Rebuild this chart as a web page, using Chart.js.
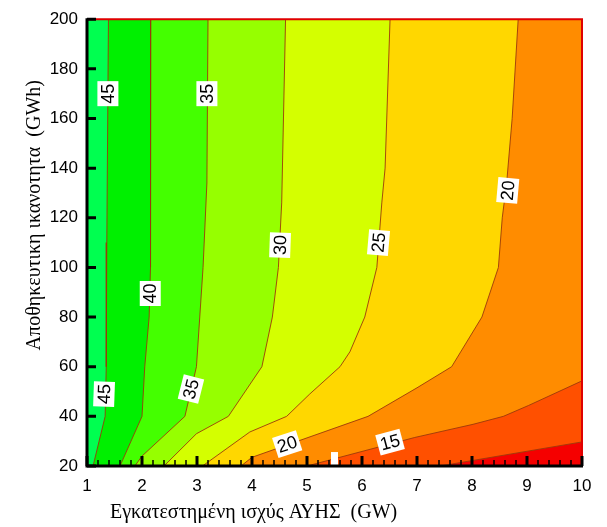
<!DOCTYPE html>
<html>
<head>
<meta charset="utf-8">
<script src="https://cdn.jsdelivr.net/npm/chart.js@4.4.1/dist/chart.umd.min.js"></script>
<style>
  html, body { margin: 0; padding: 0; background: #fff; }
</style>
</head>
<body>
<canvas id="contourChart" width="607" height="527"></canvas>
<script>
// tick labels
const xTicks = [1, 2, 3, 4, 5, 6, 7, 8, 9, 10];
const yTicks = [20, 40, 60, 80, 100, 120, 140, 160, 180, 200];

// contour levels (region >= level lies to the left / above the line)
const levels = [10, 15, 20, 25, 30, 35, 40, 45];

// contour lines: [GW, GWh]
const c10 = [[10, 29.7], [7.42, 20]];
const c15 = [[10, 54.3], [9.03, 44.4], [8.57, 40], [8.02, 36.8], [6.96, 31.5], [5.0, 20]];
const c20 = [[8.84, 200], [8.73, 160], [8.63, 134], [8.55, 120], [8.48, 100], [8.18, 80], [7.63, 60], [7.0, 51.5], [6.11, 40], [4.0, 23.5], [3.8, 20]];
const c25 = [[6.51, 200], [6.42, 140], [6.36, 126], [6.27, 100], [6.05, 80], [5.78, 66], [5.6, 60], [5.05, 49], [4.63, 40], [3.96, 33.7], [3.1, 20]];
const c30 = [[4.61, 200], [4.54, 126], [4.48, 100], [4.37, 80], [4.18, 60], [3.57, 40], [2.99, 33], [2.4, 20]];
const c35 = [[3.2, 200], [3.18, 134], [3.11, 100], [3.05, 80], [2.99, 60], [2.78, 40], [2.0, 24], [1.87, 20]];
const c40 = [[2.16, 200], [2.16, 134], [2.15, 100], [2.13, 80], [2.05, 60], [2.0, 40], [1.6, 20]];
const c45 = [[1.39, 200], [1.36, 110], [1.35, 60], [1.33, 40], [1.11, 20]];

const contours = [c10, c15, c20, c25, c30, c35, c40, c45];

// band colours: below 10, then >=10, >=15 ... >=45
const baseColor = '#f50000';
const bandColors = ['#ff5000', '#ff8c00', '#ffd700', '#d4ff00', '#96ff00', '#44ff00', '#00f000', '#00ff50'];
const lineColor = '#9c3a0a';

// inline contour labels
const contourLabels = [
  { text: '45', x: 1.38, y: 170, angle: -90 },
  { text: '35', x: 3.18, y: 170, angle: -90 },
  { text: '30', x: 4.51, y: 109, angle: -88 },
  { text: '25', x: 6.30, y: 110, angle: -85 },
  { text: '20', x: 8.65, y: 131, angle: -85 },
  { text: '40', x: 2.15, y: 89.5, angle: -90 },
  { text: '45', x: 1.31, y: 49, angle: -88 },
  { text: '35', x: 2.89, y: 51, angle: -76 },
  { text: '20', x: 4.64, y: 28.8, angle: -18 },
  { text: '15', x: 6.51, y: 29.6, angle: -15 },
  { text: '', x: 5.5, y: 22.4, angle: 0 }
];

const xMin = xTicks[0], xMax = xTicks[xTicks.length - 1];
const yMin = yTicks[0], yMax = yTicks[yTicks.length - 1];

const toPts = arr => arr.map(p => ({ x: p[0], y: p[1] }));

// polygon for "value >= level": contour, then round the left/top corners
function regionOf(arr) {
  const pts = toPts(arr);
  pts.push({ x: xMin, y: yMin }, { x: xMin, y: yMax });
  if (arr[0][1] !== yMax) pts.push({ x: xMax, y: yMax });
  return pts;
}

const datasets = [];
datasets.push({
  data: [{ x: xMin, y: yMin }, { x: xMax, y: yMin }, { x: xMax, y: yMax }, { x: xMin, y: yMax }],
  showLine: true, fill: 'shape', backgroundColor: baseColor,
  borderWidth: 0, pointRadius: 0, order: 100
});
contours.forEach((c, i) => {
  datasets.push({
    label: 'band ' + levels[i],
    data: regionOf(c),
    showLine: true, fill: 'shape', backgroundColor: bandColors[i],
    borderWidth: 0, pointRadius: 0, order: 90 - i
  });
});
contours.forEach((c, i) => {
  datasets.push({
    label: 'contour ' + levels[i],
    data: toPts(c),
    showLine: true, fill: false, borderColor: lineColor,
    borderWidth: 0.9, pointRadius: 0, order: 10
  });
});

const labelPlugin = {
  id: 'contourLabels',
  afterDatasetsDraw(chart) {
    const { ctx, scales: { x, y } } = chart;
    ctx.save();
    ctx.font = '18px "Liberation Sans", Arial, sans-serif';
    ctx.textAlign = 'center';
    ctx.textBaseline = 'middle';
    contourLabels.forEach(l => {
      const px = x.getPixelForValue(l.x);
      const py = y.getPixelForValue(l.y);
      ctx.save();
      ctx.translate(px, py);
      ctx.rotate(l.angle * Math.PI / 180);
      const w = l.text ? ctx.measureText(l.text).width + 5 : 7;
      const h = l.text ? 21 : 16;
      ctx.fillStyle = '#fff';
      ctx.fillRect(-w / 2, -h / 2, w, h);
      ctx.fillStyle = '#000';
      if (l.text) ctx.fillText(l.text, 0, 1);
      ctx.restore();
    });
    ctx.restore();
  }
};

const framePlugin = {
  id: 'frame',
  afterDatasetsDraw(chart) {
    const { ctx, chartArea: a, scales: { x, y } } = chart;
    ctx.save();
    // red top and right border
    ctx.strokeStyle = '#e00000';
    ctx.lineWidth = 2;
    ctx.beginPath();
    ctx.moveTo(a.left, a.top);
    ctx.lineTo(a.right, a.top);
    ctx.lineTo(a.right, a.bottom);
    ctx.stroke();
    // black left and bottom axes
    ctx.strokeStyle = '#000';
    ctx.lineWidth = 3;
    ctx.beginPath();
    ctx.moveTo(a.left, a.top - 1);
    ctx.lineTo(a.left, a.bottom);
    ctx.lineTo(a.right + 1, a.bottom);
    ctx.stroke();
    // major ticks, pointing inwards
    ctx.lineWidth = 3;
    ctx.beginPath();
    yTicks.forEach(v => {
      const py = y.getPixelForValue(v);
      ctx.moveTo(a.left, py);
      ctx.lineTo(a.left + 9, py);
    });
    xTicks.forEach(v => {
      const px = x.getPixelForValue(v);
      ctx.moveTo(px, a.bottom);
      ctx.lineTo(px, a.bottom - 10);
    });
    ctx.stroke();
    // minor ticks on the x axis
    ctx.lineWidth = 1.5;
    ctx.beginPath();
    for (let i = 0; i < xTicks.length - 1; i++) {
      for (let k = 1; k < 5; k++) {
        const px = x.getPixelForValue(xTicks[i] + k * (xTicks[i + 1] - xTicks[i]) / 5);
        ctx.moveTo(px, a.bottom);
        ctx.lineTo(px, a.bottom - 6);
      }
    }
    ctx.stroke();
    ctx.restore();
  }
};

const titlePlugin = {
  id: 'axisTitles',
  afterDraw(chart) {
    const { ctx, chartArea: a } = chart;
    ctx.save();
    ctx.fillStyle = '#000';
    ctx.font = '20px "Liberation Serif", "Times New Roman", serif';
    ctx.textAlign = 'left';
    ctx.textBaseline = 'alphabetic';
    ctx.fillText('Εγκατεστημένη ισχύς ΑΥΗΣ  (GW)', a.left + 23, a.bottom + 52);
    ctx.translate(40, a.top + 196);
    ctx.rotate(-Math.PI / 2);
    ctx.textAlign = 'center';
    ctx.fillText('Αποθηκευτικη ικανοτητα  (GWh)', 0, 0);
    ctx.restore();
  }
};

new Chart(document.getElementById('contourChart').getContext('2d'), {
  type: 'scatter',
  data: { datasets: datasets },
  options: {
    responsive: false,
    animation: false,
    layout: { autoPadding: false, padding: { top: 15, right: 25, left: 0, bottom: 0 } },
    plugins: { legend: { display: false }, tooltip: { enabled: false } },
    scales: {
      x: {
        type: 'linear', min: xMin, max: xMax,
        afterFit: s => { s.height = 61; },
        afterBuildTicks: s => { s.ticks = xTicks.map(v => ({ value: v })); },
        grid: { display: false, drawTicks: false },
        border: { display: false },
        ticks: { color: '#000', padding: 10, font: { family: '"Liberation Sans", Arial, sans-serif', size: 17 } }
      },
      y: {
        type: 'linear', min: yMin, max: yMax,
        afterFit: s => { s.width = 87; },
        afterBuildTicks: s => { s.ticks = yTicks.map(v => ({ value: v })); },
        grid: { display: false, drawTicks: false },
        border: { display: false },
        ticks: { color: '#000', padding: 9, font: { family: '"Liberation Sans", Arial, sans-serif', size: 17 } }
      }
    }
  },
  plugins: [labelPlugin, framePlugin, titlePlugin]
});
</script>
</body>
</html>
